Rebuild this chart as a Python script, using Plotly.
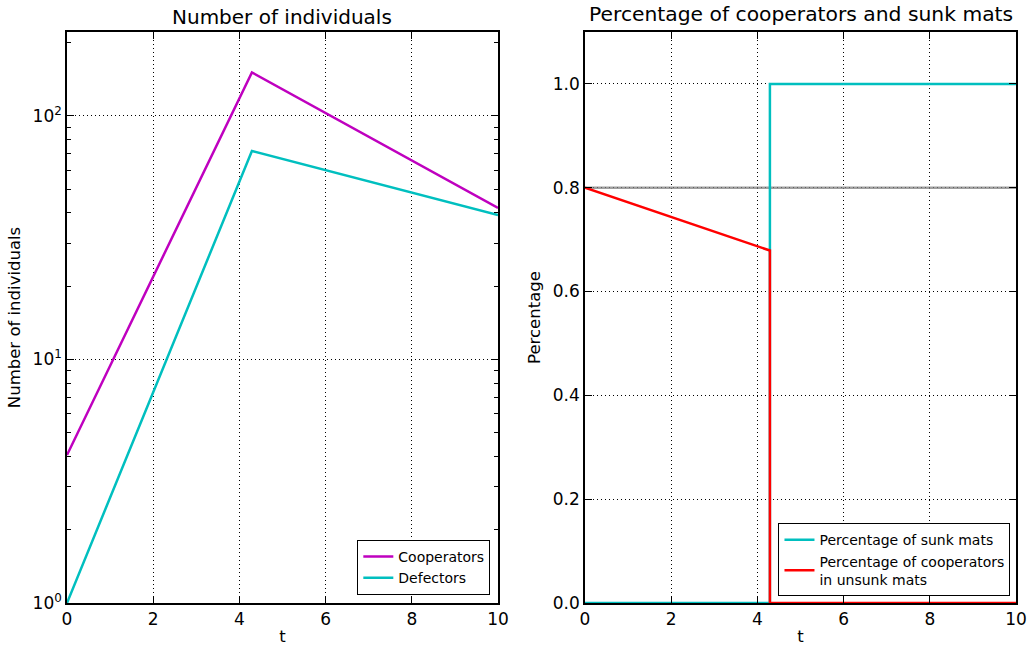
import plotly.graph_objects as go

# ---- data ----
t_pop = [0, 4.29, 10]
cooperators = [4.05, 151, 41.9]
defectors = [1, 71.8, 39.2]

t_pct = [0, 4.29, 4.29, 10]
sunk_pct = [0, 0, 1.0, 1.0]
coop_unsunk_pct = [0.8, 0.679, 0, 0]
ref_level = 0.8

xticks = [0, 2, 4, 6, 8, 10]
log_ticks = [1, 10, 100]
log_ticktext = ["10<sup>0</sup>", "10<sup>1</sup>", "10<sup>2</sup>"]
log_minor = [2, 3, 4, 5, 6, 7, 8, 9, 20, 30, 40, 50, 60, 70, 80, 90, 200]
pct_ticks = [0.0, 0.2, 0.4, 0.6, 0.8, 1.0]

MAG = "#bf00bf"
CYA = "#00bfbf"
RED = "#ff0000"
FONT = "DejaVu Sans"

fig = go.Figure()
fig.add_trace(go.Scatter(x=t_pop, y=cooperators, mode="lines", name="Cooperators",
                         line=dict(color=MAG, width=2.5), xaxis="x", yaxis="y", legend="legend"))
fig.add_trace(go.Scatter(x=t_pop, y=defectors, mode="lines", name="Defectors",
                         line=dict(color=CYA, width=2.5), xaxis="x", yaxis="y", legend="legend"))
fig.add_trace(go.Scatter(x=[0, 10], y=[ref_level, ref_level], mode="lines", showlegend=False,
                         line=dict(color="rgba(128,128,128,0.75)", width=2.5), xaxis="x2", yaxis="y2",
                         hoverinfo="skip"))
fig.add_trace(go.Scatter(x=t_pct, y=sunk_pct, mode="lines", name="Percentage of sunk mats",
                         line=dict(color=CYA, width=2.5), xaxis="x2", yaxis="y2", legend="legend2",
                         cliponaxis=False))
fig.add_trace(go.Scatter(x=t_pct, y=coop_unsunk_pct, mode="lines",
                         name="Percentage of cooperators<br>in unsunk mats",
                         line=dict(color=RED, width=2.5), xaxis="x2", yaxis="y2", legend="legend2",
                         cliponaxis=False))

axis_common = dict(showline=True, linecolor="black", linewidth=1.5, mirror="ticks",
                   ticks="inside", ticklen=7, tickcolor="black", tickwidth=1,
                   showgrid=True, gridcolor="black", griddash="1px,3px", gridwidth=1,
                   zeroline=False, automargin=False,
                   tickfont=dict(family=FONT, size=17, color="black"))

LBL = dict(family=FONT, size=16.5)

fig.update_layout(
    width=1029, height=646,
    margin=dict(l=0, r=0, t=0, b=0),
    plot_bgcolor="white", paper_bgcolor="white",
    font=dict(family=FONT, color="black"),
    xaxis=dict(domain=[0.0651, 0.484], range=[0, 10], tickvals=xticks,
               title=dict(text="t", font=LBL, standoff=2), anchor="y", **axis_common),
    yaxis=dict(domain=[0.0666, 0.9505], type="log", range=[0, 2.345],
               tickvals=log_ticks, ticktext=log_ticktext,
               minor=dict(ticks="inside", ticklen=4, tickcolor="black", showgrid=False,
                          tickvals=log_minor),
               title=dict(text="Number of individuals", font=LBL, standoff=8),
               anchor="x", **axis_common),
    xaxis2=dict(domain=[0.5685, 0.9874], range=[0, 10], tickvals=xticks,
                title=dict(text="t", font=LBL, standoff=2), anchor="y2", **axis_common),
    yaxis2=dict(domain=[0.0666, 0.9505], range=[0, 1.1], tickvals=pct_ticks, tickformat=".1f",
                title=dict(text="Percentage", font=LBL, standoff=8),
                anchor="x2", **axis_common),
    legend=dict(x=0.4765, y=0.079, xanchor="right", yanchor="bottom",
                bgcolor="white", bordercolor="black", borderwidth=1,
                font=dict(family=FONT, size=14), tracegroupgap=0, itemwidth=30),
    legend2=dict(x=0.982, y=0.077, xanchor="right", yanchor="bottom",
                 bgcolor="white", bordercolor="black", borderwidth=1,
                 font=dict(family=FONT, size=14), tracegroupgap=0, itemwidth=30),
    annotations=[
        dict(text="Number of individuals", x=0.2745, y=1 - 17 / 646, xref="paper", yref="paper",
             showarrow=False, font=dict(family=FONT, size=20), xanchor="center", yanchor="middle"),
        dict(text="Percentage of cooperators and sunk mats", x=0.778, y=1 - 14 / 646, xref="paper",
             yref="paper", showarrow=False, font=dict(family=FONT, size=20.3),
             xanchor="center", yanchor="middle"),
    ],
)

fig.write_html("out.html")
